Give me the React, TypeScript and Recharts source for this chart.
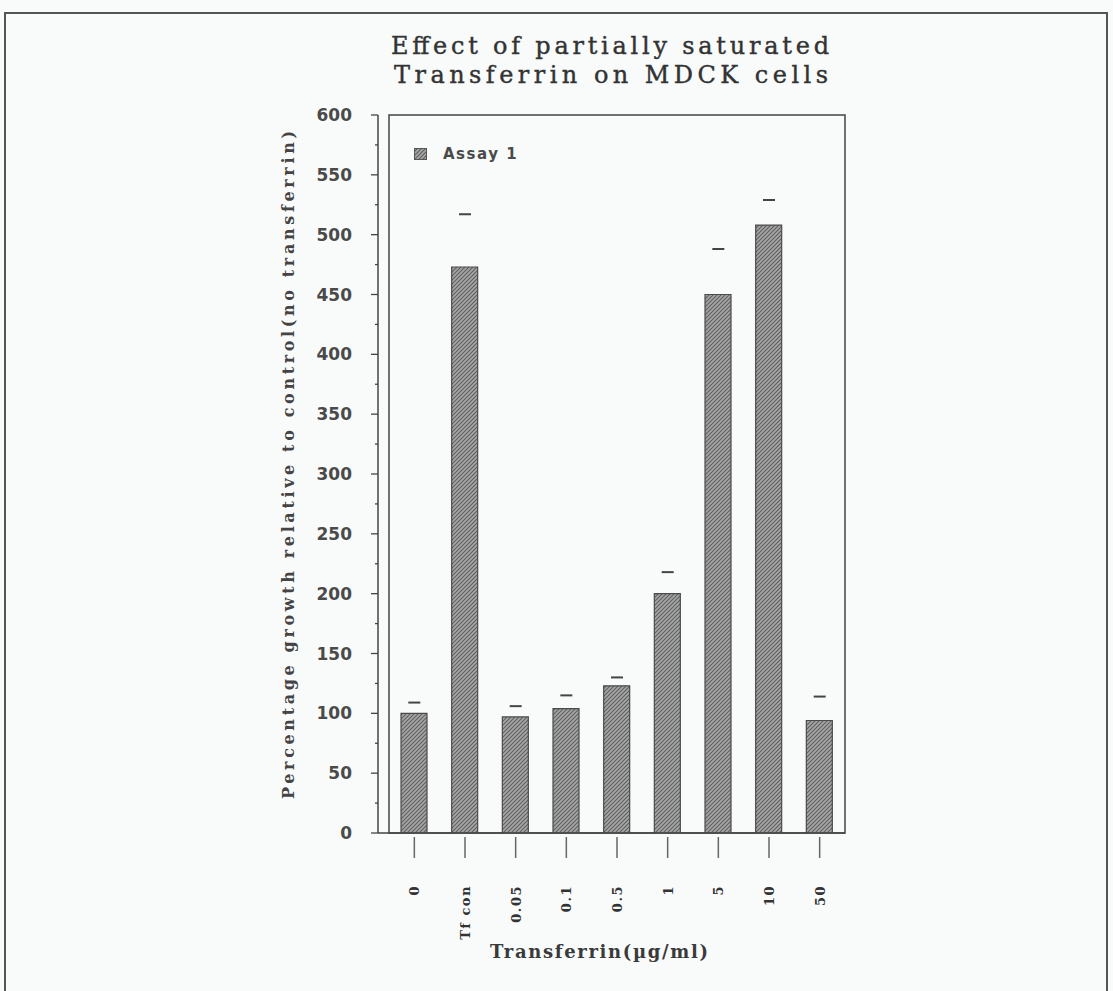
import React from "react";
import {
  ComposedChart,
  Bar,
  Scatter,
  XAxis,
  YAxis,
  Legend,
  ReferenceArea,
} from "recharts";

const categories = ["0", "Tf con", "0.05", "0.1", "0.5", "1", "5", "10", "50"];
const assayValues = [100, 473, 97, 104, 123, 200, 450, 508, 94];
const errorTops = [109, 517, 106, 115, 130, 218, 488, 529, 114];
const yTicks = [0, 25, 50, 75, 100, 125, 150, 175, 200, 225, 250, 275, 300, 325, 350, 375, 400, 425, 450, 475, 500, 525, 550, 575, 600];

const data = categories.map((c, i) => ({
  cat: c,
  assay: assayValues[i],
  err: errorTops[i],
}));

const W = 1113;
const H = 991;
const PLOT_LEFT = 378;
const PLOT_RIGHT = 845;
const PLOT_TOP = 115;
const PLOT_BOTTOM = 833;
const Y_AXIS_W = 60;
const X_AXIS_H = 60;

const AXIS_COLOR = "#444";

const YTick = (props: any) => {
  const { y, payload } = props;
  const v = payload.value as number;
  const major = v % 50 === 0;
  return (
    <g>
      <line
        x1={PLOT_LEFT - (major ? 7 : 3)}
        x2={PLOT_LEFT}
        y1={y}
        y2={y}
        stroke={AXIS_COLOR}
        strokeWidth={1.3}
      />
      {major && (
        <text
          x={352}
          y={y + 6}
          textAnchor="end"
          fontFamily="'DejaVu Sans', sans-serif"
          fontWeight={700}
          fontSize={17}
          fill="#4a4a4a"
        >
          {v}
        </text>
      )}
    </g>
  );
};

const XTick = (props: any) => {
  const { x, payload } = props;
  const tx = x + 5;
  const ty = 885;
  return (
    <g>
      <line x1={x} x2={x} y1={837} y2={858} stroke="#666" strokeWidth={1.5} />
      <text
        x={tx}
        y={ty}
        transform={`rotate(-90 ${tx} ${ty})`}
        textAnchor="end"
        fontFamily="'DejaVu Serif', serif"
        fontWeight={700}
        fontSize={13}
        letterSpacing={1.5}
        fill="#333"
      >
        {payload.value}
      </text>
    </g>
  );
};

const CapShape = (props: any) => {
  const { cx, cy } = props;
  if (cx == null || cy == null) return null;
  return (
    <line x1={cx - 6} x2={cx + 6} y1={cy} y2={cy} stroke="#444" strokeWidth={2} />
  );
};

const LegendContent = () => (
  <div style={{ display: "flex", alignItems: "center" }}>
    <svg width={14} height={13} style={{ display: "block" }}>
      <rect x={0.5} y={0.5} width={12} height={11} fill="url(#hatch)" stroke="#555" />
    </svg>
    <span
      style={{
        marginLeft: 15,
        fontFamily: "'DejaVu Sans', sans-serif",
        fontWeight: 700,
        fontSize: 15,
        letterSpacing: 1.5,
        color: "#4a4a4a",
        lineHeight: "16px",
      }}
    >
      Assay 1
    </span>
  </div>
);

export default function App() {
  return (
    <div
      style={{
        position: "absolute",
        left: 0,
        top: 0,
        width: W,
        height: H,
        background: "#f9fbfb",
        overflow: "hidden",
      }}
    >
      <svg
        width={W}
        height={H}
        style={{ position: "absolute", left: 0, top: 0 }}
      >
        <defs>
          <pattern id="hatch" patternUnits="userSpaceOnUse" width={4} height={4}>
            <rect width={4} height={4} fill="#a6a6a6" />
            <path d="M-1,1 l2,-2 M0,4 l4,-4 M3,5 l2,-2" stroke="#5e5e5e" strokeWidth={1.1} />
          </pattern>
        </defs>
        <path
          d={`M5,${H + 5} L5,13 L1107,13 L1107,${H + 5}`}
          fill="none"
          stroke="#555"
          strokeWidth={2}
        />
        <text
          x={610}
          y={54}
          textAnchor="middle"
          fontFamily="'DejaVu Serif', serif"
          fontSize={24}
          fill="#333"
          stroke="#333"
          strokeWidth={0.4}
          textLength={438}
          lengthAdjust="spacing"
        >
          Effect of partially saturated
        </text>
        <text
          x={611}
          y={83}
          textAnchor="middle"
          fontFamily="'DejaVu Serif', serif"
          fontSize={24}
          fill="#333"
          stroke="#333"
          strokeWidth={0.4}
          textLength={434}
          lengthAdjust="spacing"
        >
          Transferrin on MDCK cells
        </text>
        <text
          x={0}
          y={0}
          transform={`translate(294 465) rotate(-90)`}
          textAnchor="middle"
          fontFamily="'DejaVu Serif', serif"
          fontWeight={700}
          fontSize={16}
          fill="#444"
          textLength={668}
          lengthAdjust="spacing"
        >
          Percentage growth relative to control(no transferrin)
        </text>
        <text
          x={599}
          y={958}
          textAnchor="middle"
          fontFamily="'DejaVu Serif', serif"
          fontWeight={700}
          fontSize={18}
          fill="#3a3a3a"
          textLength={218}
          lengthAdjust="spacing"
        >
          Transferrin(µg/ml)
        </text>
      </svg>
      <div style={{ position: "absolute", left: 0, top: 0 }}>
        <ComposedChart
          width={W}
          height={H}
          data={data}
          margin={{
            top: PLOT_TOP,
            right: W - PLOT_RIGHT,
            bottom: H - PLOT_BOTTOM - X_AXIS_H,
            left: PLOT_LEFT - Y_AXIS_W,
          }}
          barCategoryGap={0}
        >
          <XAxis
            dataKey="cat"
            height={X_AXIS_H}
            axisLine={{ stroke: AXIS_COLOR, strokeWidth: 1.5 }}
            tickLine={false}
            tick={<XTick />}
            padding={{ left: 11, right: 0 }}
            interval={0}
          />
          <YAxis
            width={Y_AXIS_W}
            domain={[0, 600]}
            ticks={yTicks}
            interval={0}
            axisLine={{ stroke: AXIS_COLOR, strokeWidth: 1.5 }}
            tickLine={false}
            tick={<YTick />}
            allowDataOverflow
          />
          <ReferenceArea
            y1={0}
            y2={600}
            fill="none"
            fillOpacity={0}
            stroke={AXIS_COLOR}
            strokeWidth={1.5}
            ifOverflow="visible"
          />
          <Legend
            layout="vertical"
            align="center"
            verticalAlign="middle"
            content={<LegendContent />}
            wrapperStyle={{ position: "absolute", left: 414, top: 146, width: 150, height: 16 }}
          />
          <Bar
            dataKey="assay"
            name="Assay 1"
            barSize={26}
            fill="url(#hatch)"
            stroke="#4a4a4a"
            strokeWidth={1.2}
            isAnimationActive={false}
          />
          <Scatter
            dataKey="err"
            shape={<CapShape />}
            legendType="none"
            isAnimationActive={false}
          />
        </ComposedChart>
      </div>
    </div>
  );
}
